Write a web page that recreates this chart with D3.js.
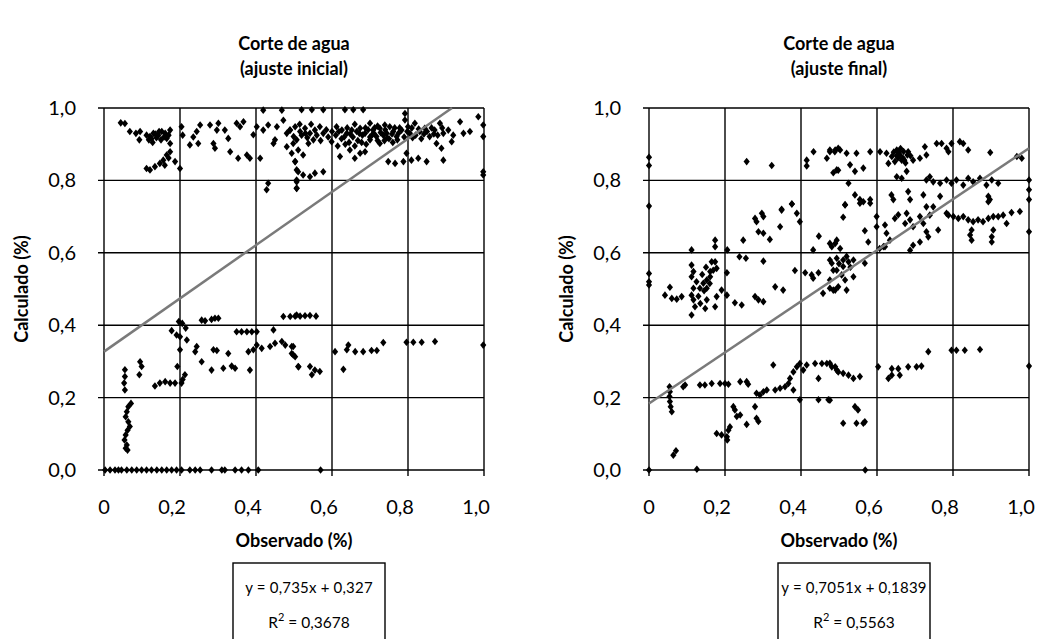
<!DOCTYPE html>
<html><head><meta charset="utf-8">
<script src="https://cdn.jsdelivr.net/npm/d3@7"></script>
<style>body{margin:0;background:#fff} text{font-family:Lato,"Open Sans",sans-serif;fill:#000}</style>
</head><body><svg id="c" width="1037" height="639"></svg>
<script>
const tickValues = [0, 0.2, 0.4, 0.6, 0.8, 1.0];
const xTickLabels = ["0", "0,2", "0,4", "0,6", "0,8", "1,0"];
const yTickLabels = ["0,0", "0,2", "0,4", "0,6", "0,8", "1,0"];
const tituloInicial = ["Corte de agua", "(ajuste inicial)"];
const tituloFinal = ["Corte de agua", "(ajuste final)"];
const ejeX = "Observado (%)";
const ejeY = "Calculado (%)";
const ajusteInicial = [0.735, 0.327];
const ajusteFinal = [0.7051, 0.1839];
const ecuacionInicial = ["y = 0,735x + 0,327", "0,3678"];
const ecuacionFinal = ["y = 0,7051x + 0,1839", "0,5563"];

const puntosInicial = [
[0.044,0.959],[0.055,0.957],[0.068,0.935],[0.084,0.930],[0.095,0.935],[0.093,0.912],[0.112,0.925],[0.121,0.921],[0.130,0.930],[0.143,0.925],[0.152,0.935],[0.161,0.930],[0.174,0.939],[0.165,0.916],[0.174,0.902],[0.174,0.879],[0.165,0.870],[0.156,0.856],[0.147,0.847],[0.134,0.838],[0.121,0.829],[0.112,0.833],[0.187,0.852],[0.200,0.833],[0.204,0.948],[0.207,0.925],[0.226,0.898],[0.235,0.920],[0.244,0.935],[0.253,0.953],[0.248,0.902],[0.279,0.953],[0.288,0.902],[0.292,0.889],[0.297,0.939],[0.301,0.958],[0.318,0.939],[0.327,0.916],[0.332,0.879],[0.349,0.958],[0.358,0.948],[0.367,0.962],[0.353,0.861],[0.376,0.870],[0.384,0.861],[0.393,0.926],[0.402,0.948],[0.411,0.861],[0.419,0.994],[0.419,0.939],[0.432,0.953],[0.446,0.902],[0.455,0.948],[0.468,0.994],[0.472,0.966],[0.481,0.930],[0.490,0.939],[0.499,0.921],[0.507,0.912],[0.481,0.893],[0.494,0.875],[0.503,0.852],[0.507,0.829],[0.507,0.801],[0.507,0.778],[0.432,0.792],[0.428,0.774],[0.450,0.912],
[0.118,0.912],[0.128,0.905],[0.138,0.918],[0.150,0.912],[0.158,0.920],[0.145,0.935],[0.170,0.925],[0.160,0.842],[0.170,0.862],[0.135,0.928],[0.125,0.915],
[0.520,0.995],[0.547,0.995],[0.577,0.995],[0.634,0.995],[0.656,0.995],[0.682,0.995],
[0.489,0.939],[0.503,0.948],[0.516,0.935],[0.529,0.944],[0.542,0.930],[0.555,0.939],[0.568,0.948],[0.577,0.930],
[0.498,0.902],[0.511,0.884],[0.524,0.870],[0.503,0.852],[0.538,0.902],[0.551,0.912],
[0.511,0.824],[0.524,0.815],[0.542,0.810],[0.555,0.820],[0.577,0.824],[0.507,0.796],[0.507,0.778],
[0.599,0.907],[0.612,0.948],[0.626,0.939],[0.639,0.930],[0.652,0.939],[0.665,0.935],[0.674,0.944],[0.687,0.930],[0.700,0.958],[0.708,0.939],[0.717,0.921],[0.726,0.944],[0.739,0.953],[0.744,0.930],[0.752,0.948],[0.761,0.935],[0.770,0.921],[0.783,0.939],[0.792,0.985],[0.792,0.967],[0.800,0.948],[0.805,0.930],[0.818,0.958],[0.831,0.935],[0.844,0.944],[0.857,0.921],[0.870,0.939],[0.884,0.958],[0.893,0.930],[0.906,0.939],[0.919,0.925],[0.937,0.962],[0.946,0.930],[0.963,0.935],[0.985,0.976],[0.998,0.953],[0.998,0.921],[0.998,0.824],[0.998,0.815],
[0.621,0.866],[0.647,0.884],[0.660,0.861],[0.674,0.875],[0.687,0.879],[0.700,0.912],[0.726,0.902],[0.748,0.852],[0.766,0.847],[0.788,0.852],[0.796,0.875],[0.809,0.856],[0.827,0.861],[0.849,0.852],[0.875,0.902],[0.888,0.889],[0.893,0.856],[0.915,0.907],
[0.610,0.925],[0.625,0.915],[0.640,0.945],[0.655,0.920],[0.668,0.910],[0.680,0.925],[0.695,0.940],[0.710,0.930],[0.720,0.950],[0.735,0.925],[0.750,0.915],[0.765,0.945],[0.775,0.930],[0.790,0.920],[0.810,0.945],[0.820,0.925],[0.835,0.915],[0.850,0.935],[0.862,0.945],[0.878,0.925],[0.890,0.945],[0.600,0.935],[0.615,0.895],[0.635,0.900],[0.660,0.895],[0.690,0.900],[0.660,0.955],[0.700,0.920],[0.720,0.910],[0.740,0.940],[0.760,0.905],
[0.618,0.935],[0.632,0.920],[0.648,0.928],[0.672,0.930],[0.688,0.945],[0.705,0.925],[0.728,0.932],[0.745,0.918],[0.758,0.928],[0.778,0.945],[0.798,0.935],[0.812,0.918],[0.828,0.942],[0.842,0.928],[0.868,0.928],[0.645,0.905],[0.678,0.905],[0.712,0.945],[0.738,0.910],[0.772,0.912],
[0.530,0.930],[0.560,0.925],[0.570,0.910],[0.585,0.940],[0.545,0.955],[0.515,0.955],[0.535,0.918],[0.520,0.925],[0.590,0.920],
[0.197,0.410],[0.206,0.405],[0.215,0.392],[0.257,0.414],[0.283,0.416],[0.292,0.419],[0.301,0.419],[0.266,0.412],
[0.178,0.385],[0.191,0.373],[0.200,0.368],[0.218,0.359],[0.200,0.332],[0.193,0.286],[0.213,0.263],[0.204,0.240],
[0.134,0.232],[0.147,0.240],[0.161,0.244],[0.174,0.240],[0.187,0.240],[0.207,0.250],
[0.095,0.299],[0.099,0.286],[0.093,0.263],[0.055,0.277],[0.055,0.258],[0.053,0.240],[0.055,0.221],
[0.244,0.341],[0.240,0.327],[0.257,0.299],[0.283,0.276],[0.288,0.332],[0.297,0.330],[0.327,0.322],[0.314,0.281],[0.336,0.287],[0.345,0.281],[0.384,0.276],
[0.349,0.382],[0.362,0.382],[0.376,0.382],[0.389,0.382],[0.402,0.382],[0.446,0.387],
[0.380,0.327],[0.393,0.332],[0.402,0.345],[0.415,0.336],[0.437,0.341],[0.450,0.350],[0.468,0.355],[0.477,0.345],[0.494,0.341],[0.494,0.322],[0.503,0.313],[0.512,0.285],
[0.472,0.424],[0.490,0.424],[0.507,0.428],[0.503,0.425],[0.516,0.425],[0.529,0.426],[0.542,0.427],[0.558,0.425],
[0.498,0.341],[0.498,0.318],[0.511,0.286],[0.542,0.286],[0.547,0.263],[0.568,0.272],[0.555,0.276],
[0.608,0.327],[0.630,0.278],[0.639,0.332],[0.643,0.345],[0.661,0.327],[0.682,0.327],[0.704,0.330],[0.718,0.330],[0.735,0.352],
[0.796,0.353],[0.814,0.353],[0.836,0.353],[0.871,0.355],[0.998,0.345],
[0.071,0.184],[0.064,0.175],[0.060,0.161],[0.057,0.147],[0.064,0.133],[0.068,0.120],[0.062,0.110],[0.057,0.097],[0.054,0.083],[0.060,0.069],[0.057,0.060],[0.062,0.055],
[0.003,0],[0.016,0],[0.029,0],[0.038,0],[0.046,0],[0.060,0],[0.073,0],[0.086,0],[0.099,0],[0.112,0],[0.125,0],[0.139,0],[0.152,0],[0.165,0],[0.178,0],[0.191,0],[0.204,0],[0.226,0],[0.240,0],[0.253,0],[0.283,0],[0.310,0],[0.318,0],[0.345,0],[0.362,0],[0.380,0],[0.406,0],[0.570,0]
];

const puntosFinal = [
[0.0,0.864],[0.0,0.841],[0.0,0.729],[0.257,0.852],[0.323,0.841],[0.415,0.856],[0.415,0.840],[0.433,0.879],[0.468,0.861],[0.476,0.879],[0.490,0.884],[0.498,0.889],[0.485,0.821],[0.498,0.828],[0.349,0.720],[0.376,0.735],
[0.476,0.884],[0.489,0.879],[0.503,0.884],[0.520,0.875],[0.546,0.875],[0.582,0.879],[0.608,0.879],[0.625,0.875],[0.639,0.866],[0.652,0.884],[0.660,0.870],[0.665,0.856],[0.647,0.852],[0.630,0.847],[0.682,0.879],[0.695,0.856],[0.713,0.861],[0.726,0.893],[0.730,0.870],[0.757,0.902],[0.770,0.902],[0.783,0.889],[0.788,0.879],[0.796,0.902],[0.818,0.907],[0.827,0.902],[0.840,0.884],[0.898,0.877],[0.968,0.866],[0.981,0.861],
[0.655,0.862],[0.670,0.880],[0.675,0.848],[0.688,0.868],[0.652,0.868],[0.662,0.888],[0.644,0.878],[0.668,0.862],[0.680,0.870],[0.658,0.876],[0.672,0.856],
[0.494,0.829],[0.529,0.843],[0.542,0.825],[0.564,0.834],[0.525,0.792],[0.652,0.810],[0.678,0.825],[0.665,0.806],[0.730,0.801],[0.739,0.810],[0.748,0.796],[0.766,0.792],[0.783,0.801],[0.796,0.792],[0.809,0.801],[0.827,0.787],[0.840,0.806],[0.853,0.796],[0.871,0.806],[0.888,0.787],[0.902,0.801],[0.919,0.792],[0.893,0.756],[0.897,0.747],[1.0,0.801],[1.0,0.774],[1.0,0.747],
[0.516,0.733],[0.542,0.760],[0.555,0.747],[0.582,0.747],[0.638,0.760],[0.643,0.747],[0.682,0.769],[0.687,0.747],[0.722,0.760],[0.766,0.756],[0.730,0.727],
[0.0,0.543],[0.0,0.520],[0.0,0.511],
[0.112,0.608],[0.174,0.635],[0.174,0.617],[0.206,0.608],[0.248,0.635],[0.279,0.695],[0.283,0.686],[0.297,0.709],[0.301,0.700],[0.288,0.658],[0.301,0.654],[0.318,0.637],[0.349,0.718],[0.376,0.735],[0.389,0.709],[0.397,0.686],[0.345,0.672],[0.447,0.646],[0.432,0.608],[0.481,0.617],[0.490,0.626],
[0.238,0.589],[0.255,0.585],[0.301,0.577],[0.384,0.551],[0.411,0.545],[0.428,0.539],[0.432,0.530],[0.446,0.545],[0.481,0.571],[0.485,0.552],[0.476,0.502],[0.458,0.488],[0.490,0.497],
[0.332,0.506],[0.353,0.497],[0.279,0.479],[0.288,0.470],[0.301,0.465],[0.226,0.462],[0.244,0.456],
[0.042,0.483],[0.055,0.505],[0.060,0.474],[0.073,0.472],[0.086,0.479],[0.112,0.566],[0.117,0.548],[0.112,0.534],[0.117,0.502],[0.112,0.483],[0.117,0.470],[0.121,0.451],[0.112,0.428],[0.134,0.502],[0.143,0.516],[0.152,0.525],[0.161,0.548],[0.169,0.552],[0.174,0.575],[0.178,0.557],[0.161,0.534],[0.152,0.502],[0.152,0.470],[0.148,0.446],[0.174,0.451],[0.178,0.479],[0.191,0.497],[0.205,0.483],[0.205,0.545],
[0.125,0.520],[0.130,0.480],[0.140,0.540],[0.135,0.460],[0.160,0.515],[0.145,0.495],[0.165,0.575],[0.150,0.560],
[0.516,0.732],[0.555,0.737],[0.582,0.737],[0.511,0.698],[0.568,0.661],[0.599,0.700],[0.599,0.672],[0.621,0.677],[0.625,0.654],[0.634,0.635],[0.617,0.617],[0.647,0.695],[0.656,0.705],[0.678,0.709],[0.674,0.681],[0.687,0.691],[0.695,0.672],[0.713,0.700],[0.722,0.681],[0.730,0.658],[0.739,0.704],[0.748,0.727],[0.735,0.644],[0.713,0.630],[0.695,0.621],[0.687,0.607],[0.761,0.663],[0.783,0.709],
[0.476,0.626],[0.494,0.635],[0.503,0.612],[0.476,0.580],[0.494,0.585],[0.511,0.580],[0.525,0.575],[0.538,0.580],[0.568,0.571],[0.511,0.562],[0.494,0.552],[0.538,0.534],[0.507,0.539],[0.520,0.497],[0.485,0.497],[0.498,0.506],[0.476,0.525],[0.516,0.525],
[0.577,0.630],[0.607,0.612],[0.621,0.617],[0.520,0.590],[0.530,0.560],[0.500,0.570],
[0.788,0.704],[0.801,0.700],[0.814,0.695],[0.827,0.700],[0.840,0.691],[0.853,0.686],[0.866,0.691],[0.879,0.686],[0.893,0.695],[0.906,0.700],[0.919,0.700],[0.932,0.704],[0.954,0.711],[0.976,0.714],[0.941,0.681],[0.906,0.663],[0.902,0.644],[0.902,0.630],[0.849,0.663],[0.845,0.649],[0.849,0.635],[1.0,0.658],[0.564,0.741],[0.893,0.741],
[0.0,0.0],[0.126,0.002],
[0.054,0.230],[0.055,0.216],[0.054,0.203],[0.055,0.189],[0.057,0.175],[0.060,0.161],[0.095,0.235],[0.090,0.230],[0.134,0.235],[0.147,0.235],[0.165,0.239],[0.187,0.239],[0.200,0.239],[0.209,0.237],[0.240,0.244],[0.257,0.244],[0.261,0.237],
[0.064,0.041],[0.071,0.053],
[0.283,0.212],[0.292,0.207],[0.301,0.216],[0.310,0.221],[0.327,0.290],[0.332,0.221],[0.345,0.226],[0.358,0.230],[0.367,0.239],[0.380,0.221],[0.371,0.253],[0.380,0.271],[0.389,0.285],[0.397,0.294],[0.406,0.276],[0.397,0.194],[0.415,0.290],[0.437,0.294],[0.455,0.294],[0.468,0.294],[0.481,0.285],[0.494,0.276],[0.446,0.253],[0.446,0.194],[0.472,0.194],
[0.222,0.175],[0.226,0.166],[0.240,0.152],[0.231,0.148],[0.257,0.126],[0.279,0.175],[0.283,0.143],[0.288,0.134],[0.178,0.101],[0.191,0.097],[0.205,0.092],[0.209,0.110],[0.213,0.119],[0.206,0.083],
[0.476,0.295],[0.490,0.285],[0.498,0.271],[0.511,0.267],[0.525,0.262],[0.538,0.253],[0.555,0.258],[0.476,0.193],[0.542,0.175],[0.550,0.166],[0.511,0.129],[0.546,0.129],[0.564,0.129],[0.568,0.133],[0.569,0.0],
[0.603,0.285],[0.630,0.253],[0.639,0.262],[0.639,0.280],[0.656,0.280],[0.660,0.262],[0.682,0.285],[0.704,0.285],[0.717,0.287],[0.735,0.327],[0.796,0.331],[0.809,0.331],[0.831,0.331],[0.871,0.333],[1.0,0.287]
];

const svg = d3.select("#c");
const diamond = "M0,-3.8L3.1,0L0,3.8L-3.1,0Z";

function panel(left, right, puntos, ajuste, titulo, ecuacion, xEnd) {
  const top = 108, bottom = 470;
  const x = d3.scaleLinear().domain([0, 1]).range([left, right]);
  const y = d3.scaleLinear().domain([0, 1]).range([bottom, top]);
  const g = svg.append("g");
  g.selectAll(".gx").data(tickValues).join("line")
    .attr("x1", d => x(d)).attr("x2", d => x(d)).attr("y1", top).attr("y2", bottom + 6)
    .attr("stroke", "#000").attr("stroke-width", 1.4);
  g.selectAll(".gy").data(tickValues).join("line")
    .attr("x1", left - 6).attr("x2", right).attr("y1", d => y(d)).attr("y2", d => y(d))
    .attr("stroke", "#000").attr("stroke-width", 1.4);
  g.selectAll(".tx").data(tickValues).join("text")
    .attr("x", d => x(d) - (d === 0 ? 0 : 8)).attr("y", bottom + 44).attr("text-anchor", "middle")
    .attr("font-size", 20).text((d, i) => xTickLabels[i]);
  g.selectAll(".ty").data(tickValues).join("text")
    .attr("x", left - 28).attr("y", d => y(d) + 7).attr("text-anchor", "end")
    .attr("font-size", 20).text((d, i) => yTickLabels[i]);
  g.selectAll(".p").data(puntos).join("path")
    .attr("d", diamond).attr("transform", d => `translate(${x(d[0])},${y(d[1])})`)
    .attr("fill", "#000");
  const line = d3.line().x(d => x(d)).y(d => y(ajuste[0] * d + ajuste[1]));
  g.append("path").attr("d", line([0, xEnd])).attr("stroke", "#7a7a7a").attr("stroke-width", 2.5).attr("fill", "none");
  const cx = (left + right) / 2;
  g.append("text").attr("x", cx).attr("y", 50).attr("text-anchor", "middle").attr("font-size", 18).attr("font-weight", "bold").text(titulo[0]);
  g.append("text").attr("x", cx).attr("y", 75).attr("text-anchor", "middle").attr("font-size", 18).attr("font-weight", "bold").text(titulo[1]);
  g.append("text").attr("x", cx).attr("y", 547).attr("text-anchor", "middle").attr("font-size", 18).attr("font-weight", "bold").text(ejeX);
  g.append("text").attr("transform", `translate(${left - 76},${(top + bottom) / 2}) rotate(-90)`)
    .attr("text-anchor", "middle").attr("font-size", 18).attr("font-weight", "bold").text(ejeY);
  const bx = cx + 15, bw = 152, by = 563;
  g.append("rect").attr("x", bx - bw / 2).attr("y", by).attr("width", bw).attr("height", 100)
    .attr("fill", "#fff").attr("stroke", "#000").attr("stroke-width", 1.4);
  g.append("text").attr("x", bx).attr("y", by + 30).attr("text-anchor", "middle").attr("font-size", 15).attr("letter-spacing", 0.2).text(ecuacion[0]);
  const t = g.append("text").attr("x", bx).attr("y", by + 65).attr("text-anchor", "middle").attr("font-size", 15.5);
  t.append("tspan").text("R");
  t.append("tspan").attr("font-size", 11).attr("dy", -7).text("2");
  t.append("tspan").attr("dy", 7).text(" = " + ecuacion[1]);
}

panel(104, 484, puntosInicial, ajusteInicial, tituloInicial, ecuacionInicial, (1 - ajusteInicial[1]) / ajusteInicial[0]);
panel(649, 1029, puntosFinal, ajusteFinal, tituloFinal, ecuacionFinal, 1);
</script></body></html>
